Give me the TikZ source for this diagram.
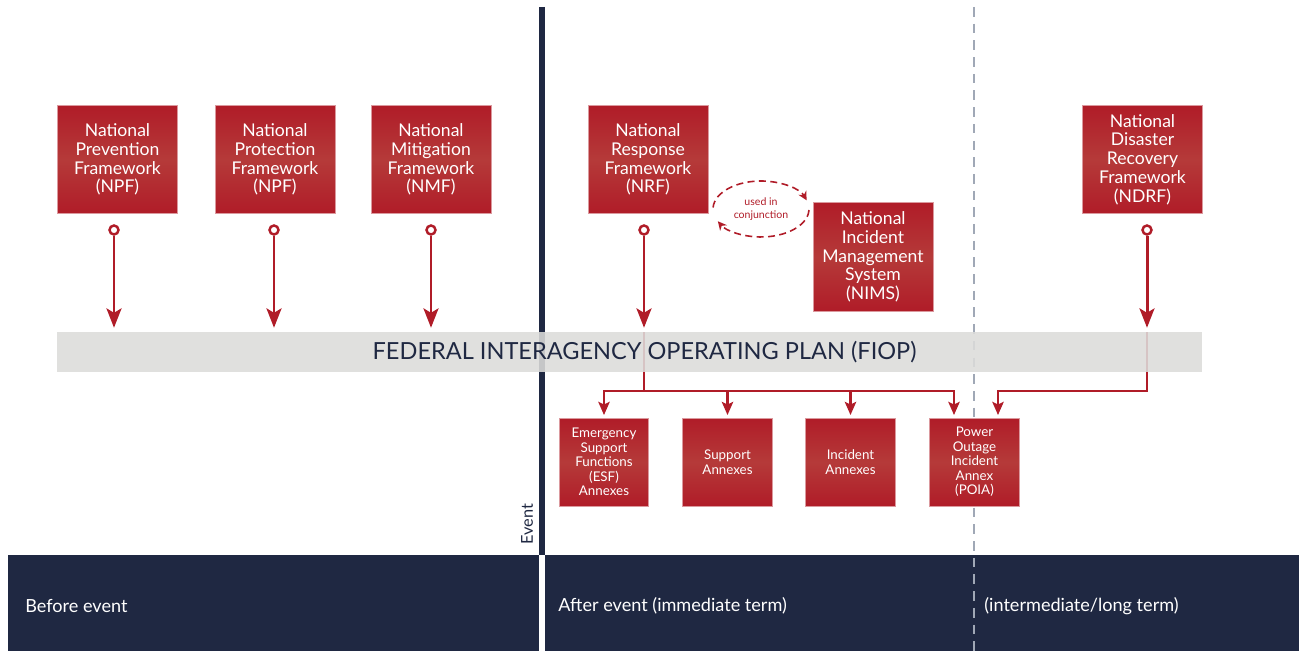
\documentclass[tikz,border=0pt]{standalone}
\usepackage{fontspec}
\setmainfont{Lato}
\usepackage{tikz}
\usetikzlibrary{shapes, positioning, arrows.meta, calc, backgrounds}

\definecolor{fiopred}{RGB}{176,28,40}
\definecolor{fiopmid}{RGB}{181,58,57}
\definecolor{fiopnavy}{RGB}{31,40,66}
\definecolor{fiopgray}{RGB}{220,220,218}
\definecolor{fiopdash}{RGB}{160,168,182}

\begin{document}
\begin{tikzpicture}[x=0.02cm, y=-0.02cm]
\tikzstyle{frame}=[rectangle, draw=fiopred!45!white, line width=0.4pt, top color=fiopred, bottom color=fiopred, middle color=fiopmid, text=white, align=center, inner sep=0pt, minimum width=2.4cm, minimum height=2.17cm, font=\fontsize{10}{10.7}\selectfont]
\tikzstyle{annex}=[frame, minimum width=1.79cm, minimum height=1.76cm, font=\fontsize{7.6}{8.3}\selectfont]
\tikzstyle{dot}=[circle, draw=fiopred, line width=1.4pt, fill=white, inner sep=0pt, minimum size=0.18cm]
\tikzstyle{feed}=[draw=fiopred, line width=1.7pt, -{Stealth[length=11pt, width=8.5pt, inset=2.5pt]}, shorten >=2.5pt]
\tikzstyle{link}=[draw=fiopred, line width=1.7pt]
\tikzstyle{drop}=[draw=fiopred, line width=1.2pt, -{Stealth[length=7.5pt, width=6.5pt, inset=1.5pt]}, shorten >=1.5pt]
\tikzstyle{conjarc}=[draw=fiopred, line width=0.9pt, dash pattern=on 4pt off 2.5pt, -{Stealth[length=5pt, width=5pt]}]
\tikzstyle{band}=[text=white, anchor=west, inner sep=0pt, font=\fontsize{10.3}{12}\selectfont]
\useasboundingbox (0,0) rectangle (1299,651);

\node[frame] (npf) at (117.5,159.5) {National\\Prevention\\Framework\\(NPF)};
\node[frame] (ppf) at (275,159.5) {National\\Protection\\Framework\\(NPF)};
\node[frame] (nmf) at (431,159.5) {National\\Mitigation\\Framework\\(NMF)};
\node[frame] (nrf) at (648,159.5) {National\\Response\\Framework\\(NRF)};
\node[frame] (nims) at (873,257) {National\\Incident\\Management\\System\\(NIMS)};
\node[frame] (ndrf) at (1142.5,159.5) {National\\Disaster\\Recovery\\Framework\\(NDRF)};

\node[dot] (npf-o) at (114,230) {};
\node[dot] (ppf-o) at (274,230) {};
\node[dot] (nmf-o) at (431,230) {};
\node[dot] (nrf-o) at (644,230) {};
\node[dot] (ndrf-o) at (1147,230) {};

\node[rectangle, fill=fiopgray, fill opacity=0.88, text opacity=1, text=fiopnavy, minimum width=22.9cm, minimum height=0.8cm, inner sep=0pt, font=\fontsize{13.4}{15}\selectfont] (fiop) at (629.5,352.5) {\hspace*{0.6cm}FEDERAL INTERAGENCY OPERATING PLAN (FIOP)};

\node[annex] (esf) at (604,462) {Emergency\\Support\\Functions\\(ESF)\\Annexes};
\node[annex] (sup) at (727.5,462) {Support\\Annexes};
\node[annex] (inc) at (850.5,462) {Incident\\Annexes};
\node[annex] (poia) at (974.5,462) {Power\\Outage\\Incident\\Annex\\(POIA)};

\node[text=fiopred, align=center, inner sep=0pt, font=\fontsize{6}{7.4}\selectfont] (conj) at (761,209) {used in\\conjunction};
\draw[conjarc] ([shift={(177:0.96cm and 0.56cm)}]conj.center) arc[start angle=177, end angle=18, x radius=0.96cm, y radius=0.56cm];
\draw[conjarc] ([shift={(358:0.96cm and 0.56cm)}]conj.center) arc[start angle=358, end angle=206, x radius=0.96cm, y radius=0.56cm];

\draw[feed] (npf-o) -- (npf-o |- fiop.north);
\draw[feed] (ppf-o) -- (ppf-o |- fiop.north);
\draw[feed] (nmf-o) -- (nmf-o |- fiop.north);
\draw[feed] (nrf-o) -- (nrf-o |- fiop.north);
\draw[feed] (ndrf-o) -- (ndrf-o |- fiop.north);

\coordinate (split) at (644,391);
\coordinate (rejoin) at (1147,391);
\draw[drop] (split) -| (esf);
\draw[drop] (split) -| (sup);
\draw[drop] (split) -| (inc);
\draw[drop] (split) -| ($(poia.north)+(-20.5,0)$);

\node[rotate=90, text=fiopnavy, inner sep=0pt, font=\fontsize{9.3}{11}\selectfont] (event) at (527,524) {Event};
\node[band] (pre) at (25,606) {Before event};
\node[band] (post) at (558,606) {After event (immediate term)};
\node[band] (long) at (984,606) {(intermediate/long term)};

\begin{pgfonlayer}{background}
\fill[fiopnavy] (8,555) rectangle (539,651);
\fill[fiopnavy] (545,555) rectangle (1299,651);
\draw[fiopdash, line width=0.9pt, dash pattern=on 5.5pt off 4pt] (974,7) -- (974,651);
\draw[fiopnavy, line width=3.1pt] (542,7) -- (542,555);
\draw[link] (nrf-o |- fiop.north) -- (split);
\draw[drop] (ndrf-o |- fiop.north) -- (rejoin) -| ($(poia.north)+(23.5,0)$);
\end{pgfonlayer}
\end{tikzpicture}
\end{document}
